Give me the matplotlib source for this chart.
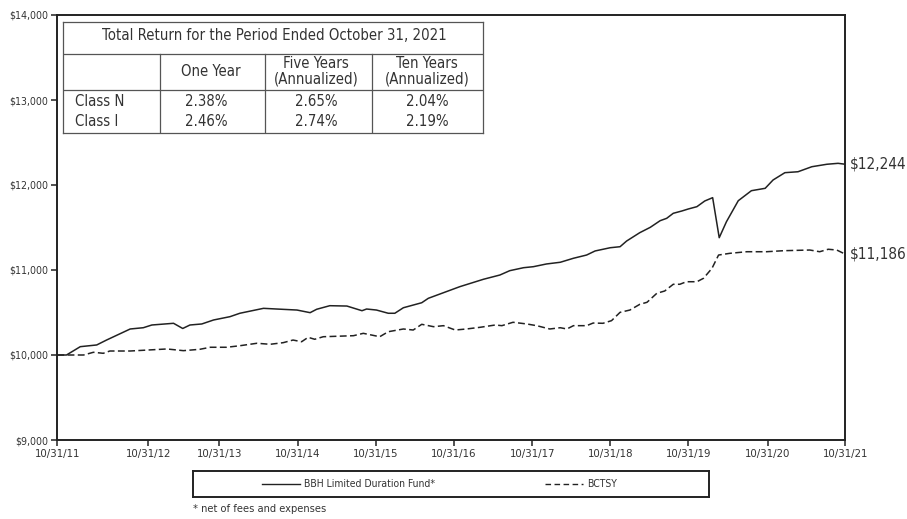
import matplotlib
matplotlib.use("Agg")
import matplotlib.pyplot as plt
from matplotlib.lines import Line2D

plt.rcParams['font.family'] = ['DejaVu Sans']
plt.rcParams['font.stretch'] = 'condensed'

# months since 10/31/11 and growth of $10,000
fund_months = [0, 1.4, 3.5, 6.0, 7.5, 11.1, 13.1, 14.4, 17.7, 19.1, 20.2, 22.0, 23.8,
               26.3, 27.8, 31.4, 33.4, 36.5, 38.5, 39.5, 41.5, 44.1, 46.4, 47.1, 48.6,
               50.4, 51.4, 52.7, 55.5, 56.5, 61.3, 64.9, 67.4, 68.9, 71.0, 72.5, 74.5,
               76.6, 78.6, 80.6, 81.9, 84.2, 85.7, 86.7, 88.7, 90.3, 91.8, 92.8, 93.8,
               95.1, 96.1, 97.4, 98.6, 99.8, 100.8, 101.9, 103.7, 105.7, 107.8, 109.0,
               110.8, 112.8, 114.9, 117.2, 118.9, 120]
fund_values = [10000, 10000, 10098, 10118, 10176, 10306, 10321, 10353, 10373, 10312,
               10353, 10365, 10412, 10451, 10491, 10549, 10541, 10529, 10498, 10538,
               10580, 10576, 10521, 10541, 10529, 10491, 10491, 10556, 10615, 10667,
               10804, 10891, 10941, 10992, 11027, 11039, 11071, 11091, 11138, 11176,
               11224, 11262, 11274, 11341, 11439, 11502, 11580, 11608, 11667, 11694,
               11718, 11745, 11812, 11851, 11380, 11568, 11815, 11933, 11961, 12059,
               12145, 12156, 12215, 12244, 12255, 12244]

bench_months = [0, 4.0, 5.5, 7.0, 8.0, 11.1, 16.7, 19.2, 21.7, 23.3, 25.8, 27.8, 30.4,
                32.4, 34.4, 35.9, 37.2, 38.2, 39.2, 40.5, 45.1, 46.6, 49.1, 50.4, 52.7,
                54.2, 55.5, 57.3, 58.8, 60.6, 62.3, 64.4, 66.7, 67.7, 69.4, 71.5, 73.0,
                75.0, 76.6, 77.6, 78.6, 80.6, 81.6, 83.1, 84.4, 85.7, 87.2, 88.7, 89.8,
                91.3, 92.5, 93.8, 94.8, 95.8, 97.4, 98.4, 99.7, 100.7, 102.4, 105.0,
                108.0, 110.6, 114.6, 116.1, 117.4, 118.7, 120]
bench_values = [10000, 10000, 10032, 10020, 10047, 10047, 10071, 10051, 10067, 10091,
                10091, 10109, 10138, 10126, 10145, 10176, 10156, 10208, 10185, 10215,
                10227, 10255, 10215, 10274, 10306, 10294, 10361, 10333, 10345, 10294,
                10306, 10326, 10353, 10345, 10385, 10365, 10345, 10306, 10321, 10306,
                10345, 10345, 10376, 10373, 10404, 10502, 10529, 10596, 10620, 10726,
                10753, 10832, 10832, 10862, 10862, 10902, 11020, 11176, 11196, 11215,
                11215, 11227, 11235, 11215, 11244, 11235, 11186]

tick_months = [0, 13.86, 24.67, 36.61, 48.49, 60.41, 72.33, 84.21, 96.09, 108.18, 120]
tick_labels = ["10/31/11", "10/31/12", "10/31/13", "10/31/14", "10/31/15", "10/31/16",
               "10/31/17", "10/31/18", "10/31/19", "10/31/20", "10/31/21"]
y_ticks = [9000, 10000, 11000, 12000, 13000, 14000]

fund_label = "BBH Limited Duration Fund*"
bench_label = "BCTSY"
end_labels = ["$12,244", "$11,186"]

table_title = "Total Return for the Period Ended October 31, 2021"
table_header = ["One Year", "Five Years\n(Annualized)", "Ten Years\n(Annualized)"]
table_rows = ["Class N", "Class I"]
table_values = [["2.38%", "2.65%", "2.04%"],
                ["2.46%", "2.74%", "2.19%"]]

INK = "#222222"
TXT = "#333333"
W, H = 907, 519


def px_box(x0, y0, x1, y1):
    return [x0 / W, 1 - y1 / H, (x1 - x0) / W, (y1 - y0) / H]


def main():
    fig = plt.figure(figsize=(W / 100, H / 100), dpi=100)
    ax = fig.add_axes(px_box(57.3, 15, 845.3, 440))

    ax.plot(fund_months, fund_values, color=INK, lw=1.1, solid_joinstyle='round')
    ax.plot(bench_months, bench_values, color=INK, lw=1.1, dashes=(4.5, 2.2))

    ax.set_xlim(0, 120)
    ax.set_ylim(9000, 14000)
    ax.set_xticks(tick_months)
    ax.set_xticklabels(tick_labels, fontsize=8.2, color=TXT)
    ax.set_yticks(y_ticks)
    ax.set_yticklabels(["${:,}".format(v) for v in y_ticks], fontsize=7.6, color=TXT)
    ax.tick_params(direction='out', length=4, width=1.1, color=INK, pad=2.5)
    for s in ax.spines.values():
        s.set_linewidth(1.4)
        s.set_color(INK)

    ax.annotate(end_labels[0], xy=(120, fund_values[-1]), xytext=(3, 0),
                textcoords='offset points', va='center', ha='left',
                fontsize=11, color=TXT, annotation_clip=False)
    ax.annotate(end_labels[1], xy=(120, bench_values[-1]), xytext=(3, 0),
                textcoords='offset points', va='center', ha='left',
                fontsize=11, color=TXT, annotation_clip=False)

    # performance table inside the plot area
    tab = fig.add_axes(px_box(63.3, 21.7, 483.3, 133.3))
    tab.set_xlim(63.3, 483.3)
    tab.set_ylim(133.3, 21.7)
    tab.set_xticks([])
    tab.set_yticks([])
    for s in tab.spines.values():
        s.set_linewidth(0.9)
        s.set_color("#555555")
    tab.patch.set_facecolor("white")
    lc = "#555555"
    tab.plot([63.3, 483.3], [54, 54], color=lc, lw=0.9)
    tab.plot([63.3, 483.3], [90, 90], color=lc, lw=0.9)
    for xv in [160, 265, 371.7]:
        tab.plot([xv, xv], [54, 133.3], color=lc, lw=0.9)
    tab.text(274, 36, table_title, ha='center', va='center', fontsize=10.7, color=TXT)
    col_c = [211, 316, 427]
    for c, h in zip(col_c, table_header):
        tab.text(c, 71, h, ha='center', va='center', fontsize=10.7, color=TXT,
                 linespacing=1.0)
    row_y = [102, 122]
    for r, name, vals in zip(row_y, table_rows, table_values):
        tab.text(75, r, name, ha='left', va='center', fontsize=10.7, color=TXT)
        for c, v in zip(col_c, vals):
            tab.text(c - 5 if c < 300 else c, r, v, ha='center', va='center',
                     fontsize=10.7, color=TXT)

    # legend box below
    leg = fig.add_axes(px_box(193, 471, 709, 497))
    leg.set_xlim(193, 709)
    leg.set_ylim(497, 471)
    leg.set_xticks([])
    leg.set_yticks([])
    for s in leg.spines.values():
        s.set_linewidth(1.4)
        s.set_color(INK)
    leg.add_line(Line2D([262, 300], [484, 484], color=INK, lw=1.0))
    leg.text(304, 484, fund_label, ha='left', va='center', fontsize=7.5, color=TXT)
    leg.add_line(Line2D([545, 583], [484, 484], color=INK, lw=1.0, dashes=(4, 2.5)))
    leg.text(587, 484, bench_label, ha='left', va='center', fontsize=7.5, color=TXT)

    fig.text(193 / W, 1 - 509 / H, "* net of fees and expenses", ha='left',
             va='center', fontsize=7.9, color=TXT)

    fig.savefig("out.png", dpi=100)


if __name__ == "__main__":
    main()
